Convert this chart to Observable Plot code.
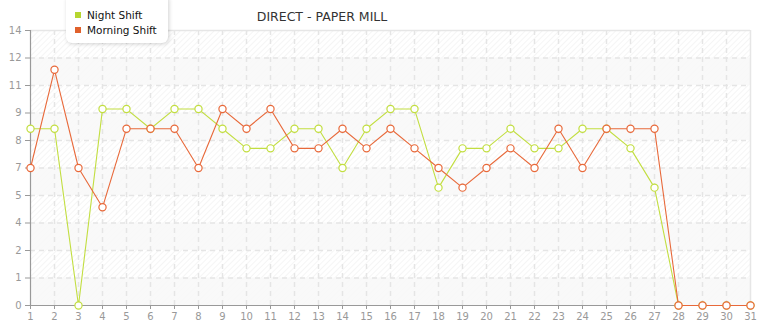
<!DOCTYPE html>
<html>
<head>
<meta charset="utf-8">
<script src="https://cdn.jsdelivr.net/npm/d3@7"></script>
<script src="https://cdn.jsdelivr.net/npm/@observablehq/plot@0.6"></script>
<style>
  html, body { margin: 0; padding: 0; background: #fff; overflow: hidden; }
  #wrap { position: relative; width: 765px; height: 320px; font-family: "DejaVu Sans", Verdana, sans-serif; }
  #title { position: absolute; left: 0; width: 644px; top: 9px; text-align: center; font-size: 12.5px; color: #333; white-space: nowrap; }
  #legend { position: absolute; left: 66px; top: -6px; width: 102px; height: 49px; background: #fff;
            border-radius: 6px; box-shadow: 1px 1px 4px rgba(0,0,0,0.18); font-size: 10.5px; color: #111; }
  .item { position: absolute; left: 9px; white-space: nowrap; }
  .sw { display: inline-block; width: 6px; height: 6px; margin-right: 6px; vertical-align: 1px; }
</style>
</head>
<body>
<div id="wrap">
  <div id="chart"></div>
  <div id="title">DIRECT - PAPER MILL</div>
  <div id="legend"></div>
</div>
<script>
// Production per day of the month, by shift
const days = [1,2,3,4,5,6,7,8,9,10,11,12,13,14,15,16,17,18,19,20,21,22,23,24,25,26,27,28,29,30,31];
const nightShift   = [9,9,0,10,10,9,10,10,9,8,8,9,9,7,9,10,10,6,8,8,9,8,8,9,9,8,6,0,0,0,0];
const morningShift = [7,12,7,5,9,9,9,7,10,9,10,8,8,9,8,9,8,7,6,7,8,7,9,7,9,9,9,0,0,0,0];

const seriesNames  = ["Night Shift", "Morning Shift"];
const seriesColors = ["#c2de40", "#e8693a"];
const legendColors = ["#b6d630", "#e0612c"];

// Value axis: ticks every 1.4 units, labels truncated to whole numbers
const yTicks  = [0, 1.4, 2.8, 4.2, 5.6, 7, 8.4, 9.8, 11.2, 12.6, 14];
const yLabels = ["0","1","2","4","5","7","8","9","11","12","14"];
const yGrid   = [1.4, 2.8, 4.2, 5.6, 7, 8.4, 9.8, 11.2, 12.6];
const xGrid   = [2,3,4,5,6,7,8,9,10,11,12,13,14,15,16,17,18,19,20,21,22,23,24,25,26,27,28,29,30];
const bandLo  = [0, 2.8, 5.6, 8.4, 11.2];
const bandHi  = [1.4, 4.2, 7, 9.8, 12.6];

const night   = days.map((d, i) => ({day: d, value: nightShift[i]}));
const morning = days.map((d, i) => ({day: d, value: morningShift[i]}));
const bands   = bandLo.map((lo, i) => ({lo, hi: bandHi[i]}));

const plot = Plot.plot({
  width: 765,
  height: 320,
  marginLeft: 30,
  marginRight: 15,
  marginTop: 30,
  marginBottom: 15,
  style: {fontFamily: "DejaVu Sans, Verdana, sans-serif", fontSize: "10px", color: "#999", background: "transparent"},
  x: {domain: [1, 31]},
  y: {domain: [0, 14]},
  marks: [
    Plot.frame({fill: "#fff", stroke: null}),
    Plot.frame({fill: "url(#hatch)", stroke: null}),
    Plot.rect(bands, {y1: "lo", y2: "hi", fill: "#f8f8f8", fillOpacity: 0.85}),
    Plot.ruleX(xGrid, {stroke: "#e5e5e5", strokeWidth: 1.5, strokeDasharray: "5,4"}),
    Plot.ruleY(yGrid, {stroke: "#e5e5e5", strokeWidth: 1.5, strokeDasharray: "5,4"}),
    Plot.ruleY([14], {stroke: "#e6e6e6", strokeWidth: 1.5}),
    Plot.ruleX([31], {stroke: "#e6e6e6", strokeWidth: 1.5}),
    Plot.ruleY([0], {stroke: "#999", strokeWidth: 1.2}),
    Plot.ruleX([1], {stroke: "#999", strokeWidth: 1.2}),
    Plot.axisX({ticks: days, tickSize: 4, tickPadding: 3, tickFormat: d => String(d), stroke: "#999", fill: "#999", label: null}),
    Plot.axisY({ticks: yTicks, tickSize: 5, tickPadding: 4, tickFormat: d => yLabels[yTicks.indexOf(d)], stroke: "#999", fill: "#999", label: null}),
    Plot.line(night, {x: "day", y: "value", stroke: seriesColors[0], strokeWidth: 1.1}),
    Plot.dot(night, {x: "day", y: "value", r: 3.6, fill: "#fff", stroke: seriesColors[0], strokeWidth: 1.2}),
    Plot.line(morning, {x: "day", y: "value", stroke: seriesColors[1], strokeWidth: 1.1}),
    Plot.dot(morning, {x: "day", y: "value", r: 3.6, fill: "#fff", stroke: seriesColors[1], strokeWidth: 1.2})
  ]
});

// Diagonal hatch used for the plot background
const ns = "http://www.w3.org/2000/svg";
const defs = document.createElementNS(ns, "defs");
defs.innerHTML = `<pattern id="hatch" patternUnits="userSpaceOnUse" width="4" height="4" patternTransform="rotate(45)">
  <line x1="0" y1="0" x2="0" y2="4" stroke="#ededed" stroke-width="1.1"/></pattern>`;
plot.insertBefore(defs, plot.firstChild);
document.getElementById("chart").appendChild(plot);

// Legend
const legend = document.getElementById("legend");
seriesNames.forEach((name, i) => {
  const item = document.createElement("div");
  item.className = "item";
  item.style.top = (i === 0 ? 15 : 30) + "px";
  item.innerHTML = `<span class="sw" style="background:${legendColors[i]}"></span>${name}`;
  legend.appendChild(item);
});
</script>
</body>
</html>
